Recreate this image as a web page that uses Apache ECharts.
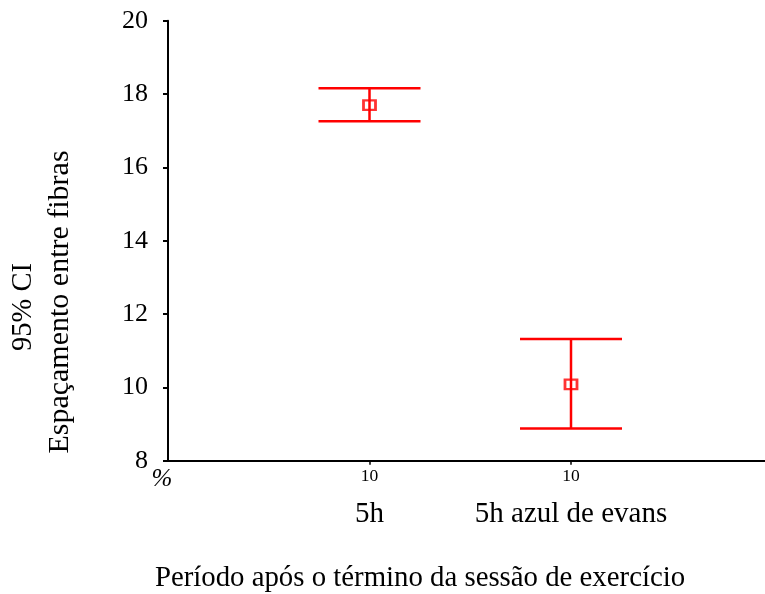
<!DOCTYPE html>
<html>
<head>
<meta charset="utf-8">
<script src="https://cdn.jsdelivr.net/npm/echarts@6/dist/echarts.min.js"></script>
<style>
html,body{margin:0;padding:0;background:#fff;}
#chart{width:765px;height:594px;}
</style>
</head>
<body>
<div id="chart"></div>
<script>
// ---- data ----
const categories = ['', '5h', '5h azul de evans', ''];
const nLabels = ['%', '10', '10', ''];
const means = [17.70, 10.08];
const lower = [17.26, 8.88];
const upper = [18.16, 11.32];
const yMin = 8, yMax = 20, yStep = 2;
const yTitleLines = ['95% CI', 'Espaçamento entre fibras'];
const xTitle = 'Período após o término da sessão de exercício';

const RED = '#ff0000';
const FONT = '"Liberation Serif", "Times New Roman", serif';

const ciData = means.map((m, i) => [i + 1, lower[i], upper[i]]);
const meanData = means.map((m, i) => [i + 1, m]);

const chart = echarts.init(document.getElementById('chart'), null, {renderer: 'canvas'});
chart.setOption({
  backgroundColor: '#ffffff',
  animation: false,
  grid: {left: 168, top: 20.7, height: 440, width: 604.5, containLabel: false, outerBoundsMode: 'none'},
  xAxis: {
    type: 'category',
    data: categories,
    boundaryGap: false,
    axisLine: {lineStyle: {color: '#000', width: 2}},
    axisTick: {
      show: true, inside: false, length: 4,
      lineStyle: {color: '#000', width: 1.5},
      interval: (i) => i === 1 || i === 2
    },
    axisLabel: {
      interval: 0,
      margin: 6,
      color: '#000',
      fontFamily: FONT,
      formatter: (value, index) => {
        if (index === 0) return '{p|' + nLabels[0] + '}';
        if (!value) return '';
        return '{n|' + nLabels[index] + '}\n{c|' + value + '}';
      },
      rich: {
        p: {fontFamily: FONT, fontSize: 25, fontStyle: 'italic', lineHeight: 26, color: '#000', padding: [0, 12, 0, 0]},
        n: {fontFamily: FONT, fontSize: 17.5, lineHeight: 20, color: '#000'},
        c: {fontFamily: FONT, fontSize: 29, lineHeight: 56, color: '#000'}
      }
    },
    splitLine: {show: false}
  },
  yAxis: {
    type: 'value',
    min: yMin, max: yMax, interval: yStep,
    axisLine: {show: true, lineStyle: {color: '#000', width: 2}},
    axisTick: {show: true, length: 5, lineStyle: {color: '#000', width: 2}},
    axisLabel: {margin: 20, color: '#000', fontFamily: FONT, fontSize: 26},
    splitLine: {show: false}
  },
  graphic: [
    {type: 'text', x: 24, y: 307, rotation: Math.PI / 2,
     style: {text: yTitleLines[0], fontFamily: FONT, fontSize: 28.5, fill: '#000', align: 'center', verticalAlign: 'middle'}},
    {type: 'text', x: 60, y: 302, rotation: Math.PI / 2,
     style: {text: yTitleLines[1], fontFamily: FONT, fontSize: 30, fill: '#000', align: 'center', verticalAlign: 'middle'}},
    {type: 'text', x: 420, y: 578,
     style: {text: xTitle, fontFamily: FONT, fontSize: 28.8, fill: '#000', align: 'center', verticalAlign: 'middle'}}
  ],
  series: [
    {
      type: 'custom',
      data: ciData,
      encode: {x: 0, y: [1, 2]},
      clip: false,
      renderItem: (params, api) => {
        const x = api.value(0);
        const lo = api.coord([x, api.value(1)]);
        const hi = api.coord([x, api.value(2)]);
        const hw = 51;
        const style = {stroke: RED, lineWidth: 2.5, fill: null};
        return {
          type: 'group',
          children: [
            {type: 'line', shape: {x1: lo[0], y1: lo[1], x2: hi[0], y2: hi[1]}, style: style},
            {type: 'line', shape: {x1: hi[0] - hw, y1: hi[1], x2: hi[0] + hw, y2: hi[1]}, style: style},
            {type: 'line', shape: {x1: lo[0] - hw, y1: lo[1], x2: lo[0] + hw, y2: lo[1]}, style: style}
          ]
        };
      },
      z: 2
    },
    {
      type: 'scatter',
      data: meanData,
      symbol: 'rect',
      symbolSize: [12, 9.5],
      itemStyle: {color: 'rgba(0,0,0,0)', borderColor: RED, borderWidth: 2.5},
      z: 3
    }
  ]
});
</script>
</body>
</html>
